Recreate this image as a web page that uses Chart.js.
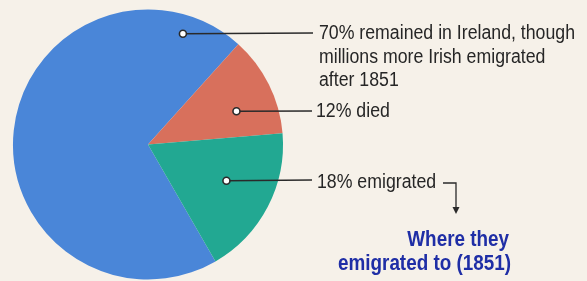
<!DOCTYPE html>
<html>
<head>
<meta charset="utf-8">
<script src="https://cdn.jsdelivr.net/npm/chart.js@4.4.0/dist/chart.umd.min.js"></script>
<style>
  html, body { margin: 0; padding: 0; background: #f6f1e9; }
  #wrap { width: 587px; height: 281px; position: relative; }
</style>
</head>
<body>
<div id="wrap"><canvas id="chart1"></canvas></div>
<script>
// data
var categories = ['remained in Ireland', 'died', 'emigrated'];
var percents = [70, 12, 18];
var labelLines = [
    ['70% remained in Ireland, though', 'millions more Irish emigrated', 'after 1851'],
    ['12% died'],
    ['18% emigrated']
];
var headingLines = ['Where they', 'emigrated to (1851)'];
var sliceColors = ['#4a86d8', '#d8705c', '#22a892'];

// callout layout: where the dot sits inside each slice and where the text goes
var callouts = [
    { angle: 17.5, frac: 0.86, lineTo: 313, textX: 319, y: 33, baseline: 39 },
    { angle: 69.4, frac: 0.70, lineTo: 312, textX: 316, y: 111, baseline: 117 },
    { angle: 114.8, frac: 0.64, lineTo: 312, textX: 317, y: 180, baseline: 188 }
];

var FONT = '"Liberation Sans", Arial, sans-serif';

// draws text squeezed horizontally, like the condensed face in the picture
function narrowText(ctx, text, x, y, sx, align) {
    var w = ctx.measureText(text).width * sx;
    var left = align === 'right' ? x - w : x;
    ctx.save();
    ctx.translate(left, y);
    ctx.scale(sx, 1);
    ctx.textAlign = 'left';
    ctx.fillText(text, 0, 0);
    ctx.restore();
}

var calloutPlugin = {
    id: 'callouts',
    afterDraw: function(chart) {
        var ctx = chart.ctx;
        var meta = chart.getDatasetMeta(0);
        ctx.save();
        ctx.font = '20px ' + FONT;
        // first line is 256px wide in the picture
        var sx = 256 / ctx.measureText(labelLines[0][0]).width;
        meta.data.forEach(function(arc, i) {
            var c = callouts[i];
            var r = arc.outerRadius * c.frac;
            var a = c.angle * Math.PI / 180;
            var px = arc.x + r * Math.sin(a);
            var py = arc.y - r * Math.cos(a);
            ctx.strokeStyle = '#2a2a2a';
            ctx.lineWidth = 1.3;
            ctx.beginPath();
            ctx.moveTo(px, py);
            ctx.lineTo(c.lineTo, c.y);
            ctx.stroke();
            ctx.fillStyle = '#ffffff';
            ctx.lineWidth = 1.6;
            ctx.beginPath();
            ctx.arc(px, py, 3.5, 0, Math.PI * 2);
            ctx.fill();
            ctx.stroke();
            ctx.fillStyle = '#262626';
            ctx.font = '20px ' + FONT;
            ctx.textBaseline = 'alphabetic';
            labelLines[i].forEach(function(t, k) {
                narrowText(ctx, t, c.textX, c.baseline + k * 23.5, sx, 'left');
            });
        });

        // bracket arrow after "18% emigrated"
        ctx.strokeStyle = '#2a2a2a';
        ctx.lineWidth = 1.3;
        ctx.beginPath();
        ctx.moveTo(443, 183);
        ctx.lineTo(456, 183);
        ctx.lineTo(456, 208);
        ctx.stroke();
        ctx.fillStyle = '#2a2a2a';
        ctx.beginPath();
        ctx.moveTo(452.5, 207);
        ctx.lineTo(459.5, 207);
        ctx.lineTo(456, 214);
        ctx.closePath();
        ctx.fill();

        // blue heading, second line is 173px wide
        ctx.fillStyle = '#1f2ea6';
        ctx.font = 'bold 22px ' + FONT;
        var hx = 173 / ctx.measureText(headingLines[1]).width;
        narrowText(ctx, headingLines[0], 509, 246, hx, 'right');
        narrowText(ctx, headingLines[1], 511, 270, hx, 'right');
        ctx.restore();
    }
};

window.onload = function() {
    var ctx1 = document.getElementById('chart1').getContext('2d');
    var chart1 = new Chart(ctx1, {
        type: 'pie',
        data: {
            labels: categories,
            datasets: [{
                data: percents,
                backgroundColor: sliceColors,
                borderWidth: 0
            }]
        },
        options: {
            responsive: true,
            maintainAspectRatio: false,
            animation: false,
            rotation: 150,
            layout: { padding: { left: 13, top: 9, right: 304, bottom: 1 } },
            plugins: {
                legend: { display: false },
                tooltip: { enabled: false }
            }
        },
        plugins: [calloutPlugin]
    });
};
</script>
</body>
</html>
